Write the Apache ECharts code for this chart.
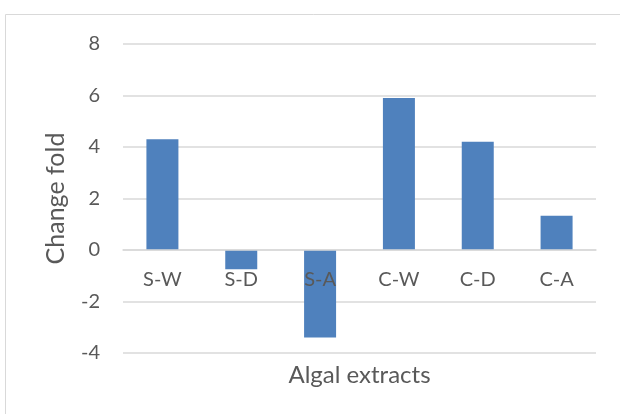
<!DOCTYPE html>
<html>
<head>
<meta charset="utf-8">
<script src="https://cdn.jsdelivr.net/npm/echarts@6/dist/echarts.min.js"></script>
<style>
  html, body { margin: 0; padding: 0; background: #fff; }
  #chart { width: 620px; height: 414px; }
</style>
</head>
<body>
<div id="chart"></div>
<script>
const categories = ['S-W', 'S-D', 'S-A', 'C-W', 'C-D', 'C-A']
const changeFold = [4.3, -0.75, -3.4, 5.9, 4.2, 1.33]

const textColor = '#595959'
const fontFamily = 'Lato, "Open Sans", sans-serif'

const chart = echarts.init(document.getElementById('chart'))
chart.setOption({
  animation: false,
  textStyle: { fontFamily: fontFamily },
  graphic: [{
    // chart area frame (only left and top edges are visible)
    type: 'rect',
    shape: { x: 5.5, y: 14.5, width: 700, height: 500 },
    style: { fill: 'none', stroke: '#d9d9d9', lineWidth: 1 },
    silent: true
  }],
  grid: { left: 123, right: 24, top: 44, bottom: 61, outerBoundsMode: 'none', containLabel: false },
  xAxis: {
    type: 'category',
    data: categories,
    z: 5, // labels drawn over the bars (S-A)
    name: 'Algal extracts',
    nameLocation: 'middle',
    nameGap: 10,
    nameTextStyle: { color: textColor, fontSize: 24, fontFamily: fontFamily },
    axisLine: { onZero: true, lineStyle: { color: '#d9d9d9', width: 1.5 } },
    axisTick: { show: false },
    // labels sit just under the zero line, like the original
    axisLabel: { color: textColor, fontSize: 20, margin: -83, fontFamily: fontFamily }
  },
  yAxis: {
    type: 'value',
    min: -4,
    max: 8,
    interval: 2,
    name: 'Change fold',
    nameLocation: 'middle',
    nameGap: 55,
    nameTextStyle: { color: textColor, fontSize: 25, fontFamily: fontFamily },
    axisLine: { show: false },
    axisTick: { show: false },
    axisLabel: { color: textColor, fontSize: 20, margin: 23, fontFamily: fontFamily },
    splitLine: { lineStyle: { color: '#d9d9d9', width: 1.5 } }
  },
  series: [{
    type: 'bar',
    data: changeFold,
    barWidth: 32,
    itemStyle: { color: '#4f81bd' }
  }]
})
</script>
</body>
</html>
